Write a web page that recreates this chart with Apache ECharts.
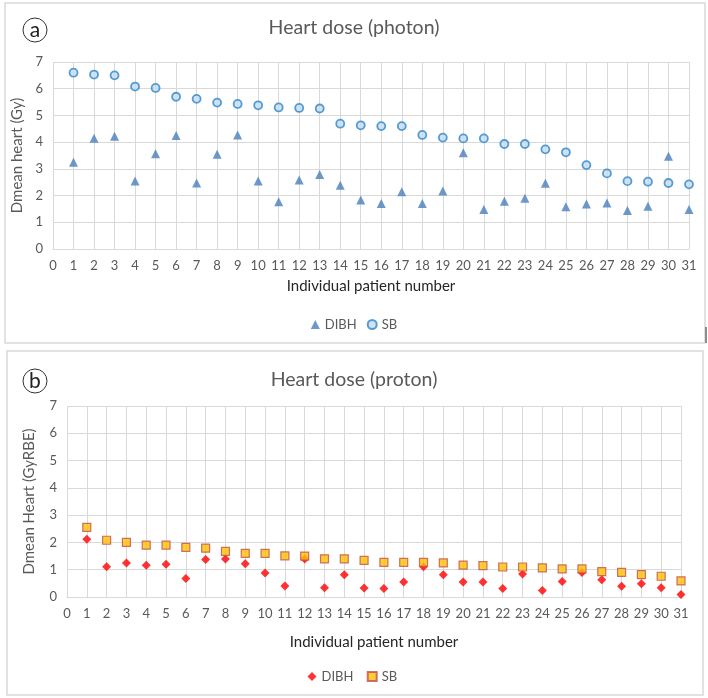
<!DOCTYPE html>
<html>
<head>
<meta charset="utf-8">
<script src="https://cdn.jsdelivr.net/npm/echarts@6/dist/echarts.min.js"></script>
<style>
  html, body { margin: 0; padding: 0; background: #fff; }
  #chart { width: 708px; height: 698px; }
</style>
</head>
<body>
<div id="chart"></div>
<script>
// patient numbers 1..31
var patients = [1,2,3,4,5,6,7,8,9,10,11,12,13,14,15,16,17,18,19,20,21,22,23,24,25,26,27,28,29,30,31];

// (a) photon, Gy
var photonDIBH = [3.25,4.15,4.22,2.55,3.57,4.25,2.47,3.55,4.27,2.55,1.77,2.58,2.79,2.39,1.83,1.70,2.14,1.70,2.17,3.60,1.48,1.79,1.90,2.46,1.58,1.68,1.72,1.44,1.60,3.47,1.48];
var photonSB = [6.60,6.53,6.50,6.08,6.03,5.70,5.62,5.48,5.43,5.38,5.30,5.28,5.26,4.69,4.63,4.60,4.60,4.27,4.17,4.14,4.14,3.93,3.93,3.73,3.62,3.14,2.83,2.54,2.52,2.47,2.42];

// (b) proton, GyRBE
var protonDIBH = [2.12,1.11,1.25,1.16,1.20,0.68,1.37,1.39,1.22,0.88,0.40,1.39,0.34,0.82,0.33,0.31,0.55,1.11,0.82,0.55,0.55,0.31,0.84,0.24,0.57,0.90,0.63,0.39,0.49,0.34,0.09];
var protonSB = [2.55,2.08,2.00,1.90,1.90,1.82,1.79,1.67,1.60,1.60,1.51,1.50,1.40,1.40,1.34,1.27,1.27,1.27,1.25,1.17,1.15,1.10,1.10,1.07,1.03,1.03,0.93,0.90,0.82,0.76,0.59];

function pairs(ys) {
    var out = [];
    for (var i = 0; i < ys.length; i++) {
        out.push([patients[i], ys[i]]);
    }
    return out;
}

var FONT = 'Lato';
var TXT = '#595959';
var GRID = '#d9d9d9';

function xAxisFor(idx, gap) {
    return {
        type: 'value', gridIndex: idx, min: 0, max: 31, interval: 1,
        name: 'Individual patient number', nameLocation: 'middle', nameGap: gap,
        nameTextStyle: { fontFamily: FONT, fontSize: 15, color: '#262626' },
        axisLine: { show: true, lineStyle: { color: GRID } },
        axisTick: { show: false },
        axisLabel: { fontFamily: FONT, fontSize: 13, color: TXT, margin: 10 },
        splitLine: { show: true, lineStyle: { color: GRID } }
    };
}

function yAxisFor(idx, name, gap) {
    return {
        type: 'value', gridIndex: idx, min: 0, max: 7, interval: 1,
        name: name, nameLocation: 'middle', nameGap: gap, nameRotate: 90,
        nameTextStyle: { fontFamily: FONT, fontSize: 15, color: TXT },
        axisLine: { show: false },
        axisTick: { show: false },
        axisLabel: { fontFamily: FONT, fontSize: 13, color: TXT, margin: 10 },
        splitLine: { show: true, lineStyle: { color: GRID } }
    };
}

var chart = echarts.init(document.getElementById('chart'), null, { renderer: 'canvas' });

var option = {
    backgroundColor: '#fff',
    animation: false,
    title: [
        { text: 'Heart dose (photon)', left: 'center', top: 13,
          textStyle: { fontFamily: FONT, fontSize: 19.5, fontWeight: 'normal', color: TXT } },
        { text: 'Heart dose (proton)', left: 'center', top: 365,
          textStyle: { fontFamily: FONT, fontSize: 19.5, fontWeight: 'normal', color: TXT } }
    ],
    legend: [
        { top: 313, left: 'center', itemWidth: 9, itemHeight: 9, itemGap: 10,
          textStyle: { fontFamily: FONT, fontSize: 13, color: TXT },
          data: ['DIBH', 'SB'] },
        { top: 665, left: 'center', itemWidth: 9, itemHeight: 9, itemGap: 10,
          textStyle: { fontFamily: FONT, fontSize: 13, color: TXT },
          data: ['DIBH ', 'SB '] }
    ],
    grid: [
        { left: 53, right: 19, top: 62, height: 187 },
        { left: 67, right: 27, top: 406, height: 191 }
    ],
    xAxis: [xAxisFor(0, 30), xAxisFor(1, 38)],
    yAxis: [yAxisFor(0, 'Dmean heart (Gy)', 23), yAxisFor(1, 'Dmean Heart (GyRBE)', 30)],
    series: [
        { name: 'DIBH', type: 'scatter', xAxisIndex: 0, yAxisIndex: 0,
          symbol: 'triangle', symbolSize: 9,
          itemStyle: { color: '#4a7ebb' },
          data: pairs(photonDIBH) },
        { name: 'SB', type: 'scatter', xAxisIndex: 0, yAxisIndex: 0,
          symbol: 'circle', symbolSize: 8,
          itemStyle: { color: '#c5dcf0', borderColor: '#2e86c9', borderWidth: 1.8 },
          data: pairs(photonSB) },
        { name: 'DIBH ', type: 'scatter', xAxisIndex: 1, yAxisIndex: 1,
          symbol: 'diamond', symbolSize: 9,
          itemStyle: { color: '#ff0000' },
          data: pairs(protonDIBH) },
        { name: 'SB ', type: 'scatter', xAxisIndex: 1, yAxisIndex: 1,
          symbol: 'rect', symbolSize: 8,
          itemStyle: { color: '#ffc000', borderColor: '#c0504d', borderWidth: 1.2 },
          data: pairs(protonSB) }
    ],
    graphic: [
        { type: 'rect', shape: { x: 5, y: 3, width: 700, height: 340 },
          style: { fill: 'none', stroke: '#d9d9d9', lineWidth: 1.5 }, silent: true },
        { type: 'rect', shape: { x: 7, y: 351, width: 696, height: 344 },
          style: { fill: 'none', stroke: '#d9d9d9', lineWidth: 1.5 }, silent: true },
        { type: 'rect', shape: { x: 705, y: 327, width: 2, height: 16 },
          style: { fill: '#8c8c8c' }, silent: true },
        { type: 'circle', shape: { cx: 35, cy: 30, r: 12 },
          style: { fill: '#fff', stroke: '#333', lineWidth: 1 } },
        { type: 'text', x: 35, y: 30,
          style: { text: 'a', fontFamily: FONT, fontSize: 21, fill: '#222', align: 'center', verticalAlign: 'middle' } },
        { type: 'circle', shape: { cx: 35, cy: 381, r: 12 },
          style: { fill: '#fff', stroke: '#333', lineWidth: 1 } },
        { type: 'text', x: 35, y: 381,
          style: { text: 'b', fontFamily: FONT, fontSize: 21, fill: '#222', align: 'center', verticalAlign: 'middle' } }
    ]
};

chart.setOption(option);
</script>
</body>
</html>
